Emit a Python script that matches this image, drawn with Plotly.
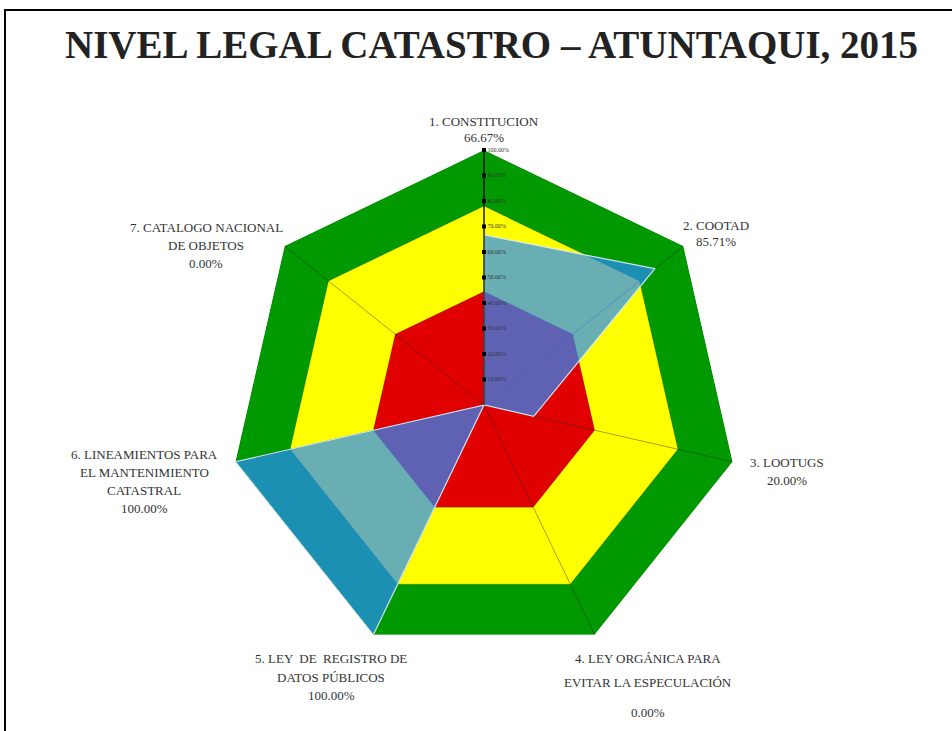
import plotly.graph_objects as go

# ---------------- data ----------------
title_text = "NIVEL LEGAL CATASTRO – ATUNTAQUI, 2015"
categories = [
    "1. CONSTITUCION",
    "2. COOTAD",
    "3. LOOTUGS",
    "4. LEY ORGÁNICA PARA\nEVITAR LA ESPECULACIÓN",
    "5. LEY  DE  REGISTRO DE\nDATOS PÚBLICOS",
    "6. LINEAMIENTOS PARA\nEL MANTENIMIENTO\nCATASTRAL",
    "7. CATALOGO NACIONAL\nDE OBJETOS",
]
values = [66.67, 85.71, 20.00, 0.00, 100.00, 100.00, 0.00]
band_levels = [100, 78, 44.5]
band_colors = ["#009A00", "#FFFF00", "#E10000"]
tick_values = [10, 20, 30, 40, 50, 60, 70, 80, 90, 100]

# ---------------- styling / layout helpers ----------------
W, H = 952, 731
CX, CY, R = 484, 405, 255  # centre and radius in px (layout only)
keys = [c.replace("\n", " ") for c in categories]

def closed(seq):
    return list(seq) + [seq[0]]

fig = go.Figure()

# background bands
for lvl, col in zip(band_levels, band_colors):
    fig.add_trace(go.Scatterpolar(
        r=closed([lvl] * len(keys)), theta=closed(keys),
        mode="lines", fill="toself", fillcolor=col,
        line=dict(color="rgba(0,0,0,0.25)", width=0.7),
        hoverinfo="skip", showlegend=False))

# spokes
for k in keys:
    fig.add_trace(go.Scatterpolar(
        r=[0, band_levels[0]], theta=[k, k], mode="lines",
        line=dict(color="rgba(40,40,40,0.55)", width=0.8),
        hoverinfo="skip", showlegend=False))

# data series
fig.add_trace(go.Scatterpolar(
    r=closed(values), theta=closed(keys), mode="lines",
    fill="toself", fillcolor="rgba(40,140,255,0.70)",
    line=dict(color="rgba(215,235,245,0.95)", width=1.2),
    name="Nivel", showlegend=False))

# radial axis line along the first axis
fig.add_trace(go.Scatterpolar(
    r=[0, tick_values[-1]], theta=[keys[0], keys[0]], mode="lines",
    line=dict(color="black", width=1.2),
    hoverinfo="skip", showlegend=False))

# tick markers + tick labels on the first axis
fig.add_trace(go.Scatterpolar(
    r=tick_values, theta=[keys[0]] * len(tick_values),
    mode="markers+text",
    marker=dict(symbol="square", size=4, color="black"),
    text=[f"{v:.2f}%" for v in tick_values],
    textposition="middle right",
    textfont=dict(size=6, color="#333333", family="Liberation Serif"),
    hoverinfo="skip", showlegend=False))

fig.update_layout(
    width=W, height=H,
    margin=dict(l=0, r=0, t=0, b=0),
    paper_bgcolor="white",
    showlegend=False,
    polar=dict(
        domain=dict(x=[(CX - R) / W, (CX + R) / W],
                    y=[(H - CY - R) / H, (H - CY + R) / H]),
        gridshape="linear",
        bgcolor="white",
        angularaxis=dict(rotation=90, direction="clockwise",
                         categoryorder="array", categoryarray=keys,
                         showline=False, showgrid=False,
                         showticklabels=False, ticks=""),
        radialaxis=dict(range=[0, 100], angle=90,
                        showticklabels=False, ticks="", showgrid=False,
                        showline=False),
    ),
)

# category labels: (x centre, y of first line, line step, y of value line)
label_pos = [
    (484, 121, 17, 137),
    (716, 225, 17, 241),
    (787, 463, 17, 480),
    (648, 658, 24, 712),
    (331, 658, 19, 695),
    (144, 455, 17.5, 508),
    (206, 228, 17.5, 263),
]
font_lbl = dict(family="Liberation Serif", size=13, color="#333333")
for cat, val, (x, y0, step, yv) in zip(categories, values, label_pos):
    for j, line in enumerate(cat.split("\n")):
        fig.add_annotation(x=x / W, y=1 - (y0 + j * step) / H, xref="paper",
                           yref="paper", text=line, showarrow=False,
                           font=font_lbl, xanchor="center", yanchor="middle")
    fig.add_annotation(x=x / W, y=1 - yv / H, xref="paper", yref="paper",
                       text=f"{val:.2f}%", showarrow=False, font=font_lbl,
                       xanchor="center", yanchor="middle")

# title
fig.add_annotation(x=491 / W, y=1 - 45 / H, xref="paper", yref="paper",
                   text=f"<b>{title_text}</b>", showarrow=False,
                   font=dict(family="Liberation Serif", size=39, color="#222222"),
                   xanchor="center", yanchor="middle")

# page frame
fig.add_shape(type="rect", xref="paper", yref="paper",
              x0=5 / W, x1=1.2, y0=-0.2, y1=1 - 10 / H,
              line=dict(color="black", width=2), fillcolor="rgba(0,0,0,0)",
              layer="above")

fig.write_html("out.html")
